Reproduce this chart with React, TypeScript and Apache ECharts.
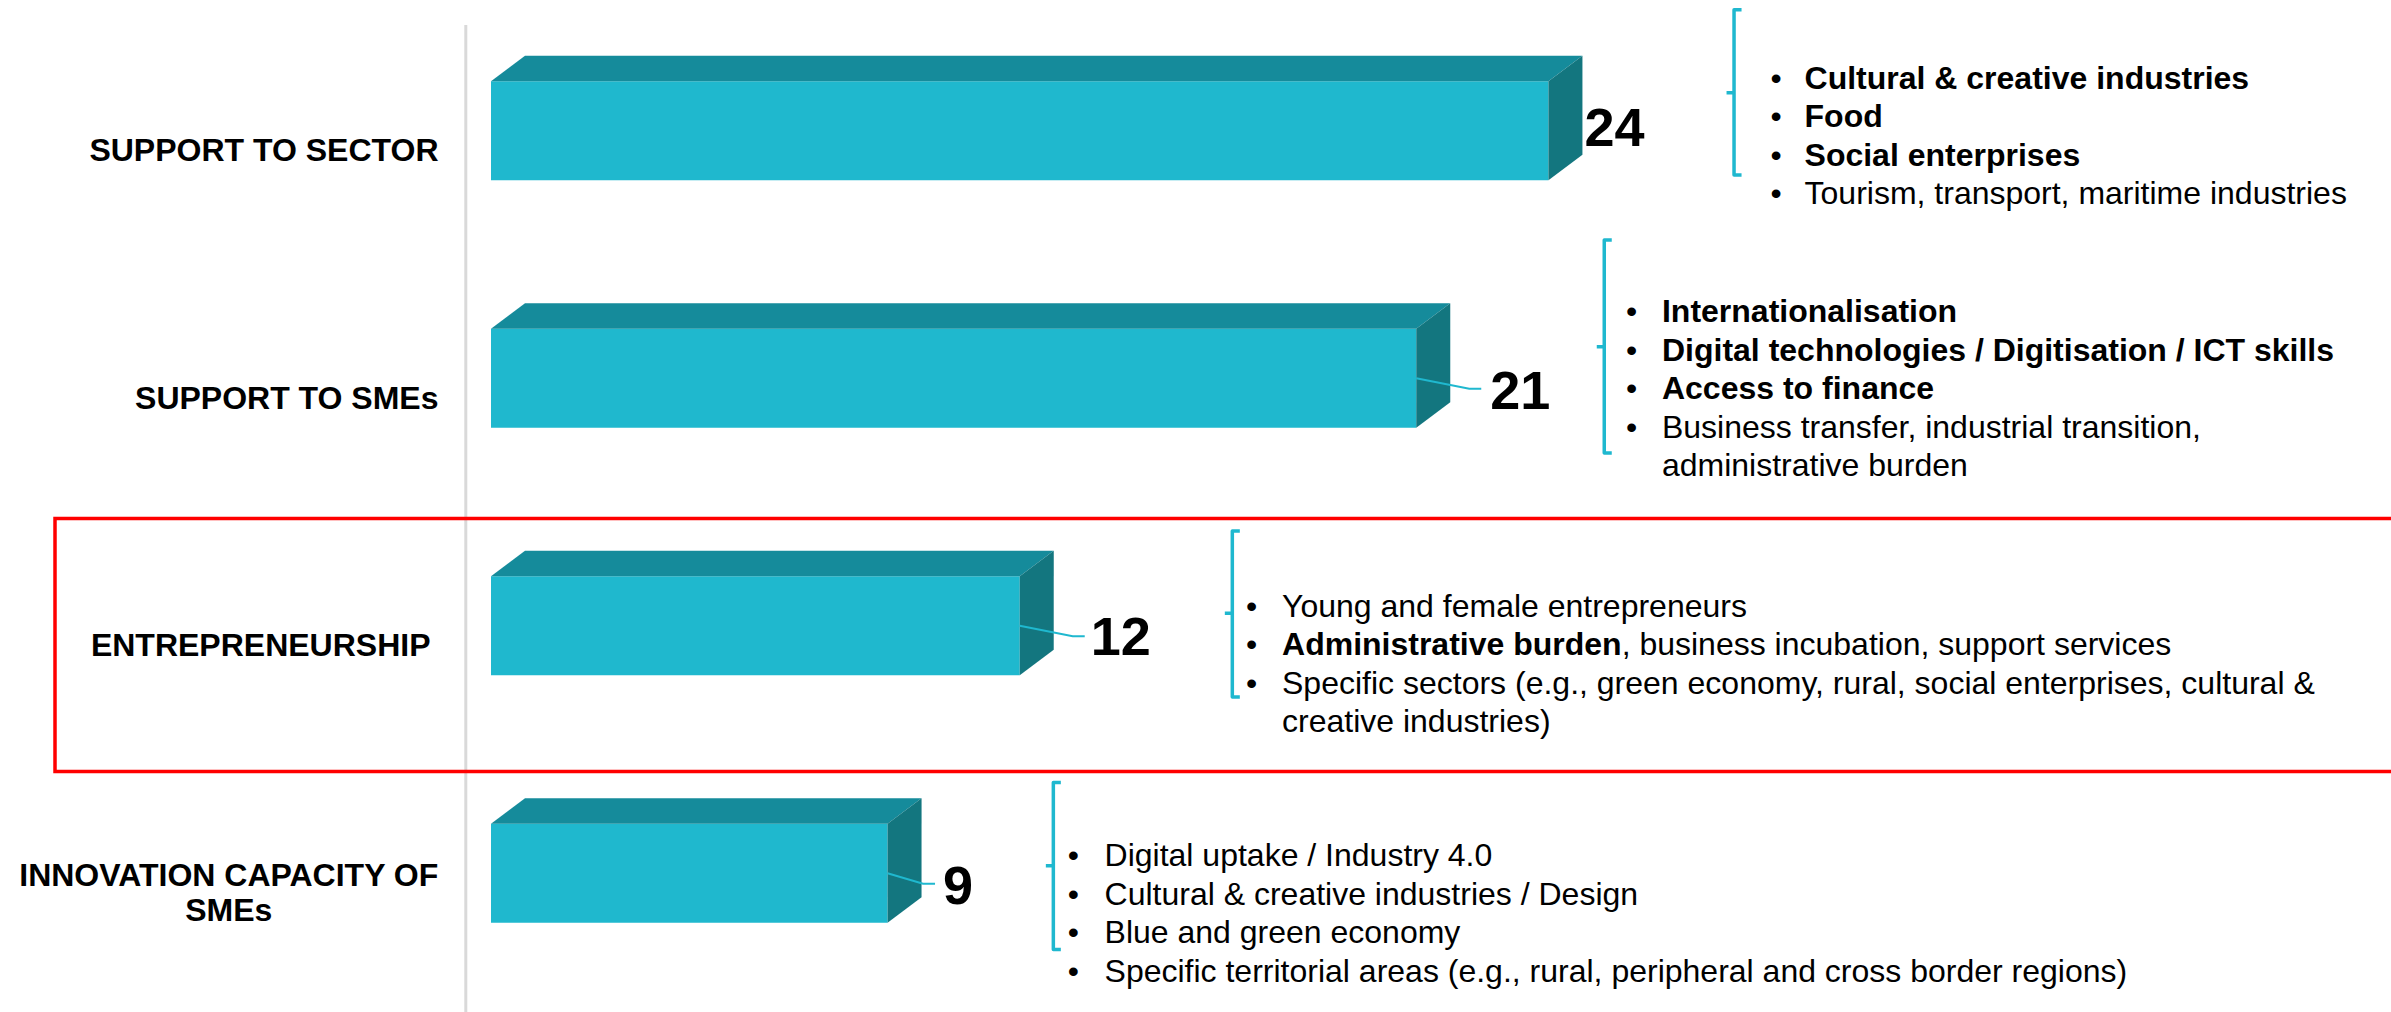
import React, { useEffect, useRef } from "react";
import * as echarts from "echarts";

// ---------- data ----------
const categories = [
  "SUPPORT TO SECTOR",
  "SUPPORT TO SMEs",
  "ENTREPRENEURSHIP",
  "INNOVATION CAPACITY OF\nSMEs",
];
const counts = [24, 21, 12, 9];
const highlighted = "ENTREPRENEURSHIP";

// bullet items: each item is a list of [text, bold]
type Seg = [string, boolean];
const sectorItems: Seg[][] = [
  [["Cultural & creative industries", true]],
  [["Food", true]],
  [["Social enterprises", true]],
  [["Tourism, transport, maritime industries", false]],
];
const smeItems: Seg[][] = [
  [["Internationalisation", true]],
  [["Digital technologies / Digitisation / ICT skills", true]],
  [["Access to finance", true]],
  [["Business transfer, industrial transition,\nadministrative burden", false]],
];
const entrepreneurshipItems: Seg[][] = [
  [["Young and female entrepreneurs", false]],
  [["Administrative burden", true], [", business incubation, support services", false]],
  [["Specific sectors (e.g., green economy, rural, social enterprises, cultural &\ncreative industries)", false]],
];
const innovationItems: Seg[][] = [
  [["Digital uptake / Industry 4.0", false]],
  [["Cultural & creative industries / Design", false]],
  [["Blue and green economy", false]],
  [["Specific territorial areas (e.g., rural, peripheral and cross border regions)", false]],
];
const bulletLists = [sectorItems, smeItems, entrepreneurshipItems, innovationItems];

// ---------- layout / style ----------
const W = 2391;
const H = 1012;
const FONT = "'Liberation Sans', Arial, Helvetica, sans-serif";
const FRONT = "#1fb8ce";
const TOP = "#158b9b";
const SIDE = "#13767f";
const ACCENT = "#1fb8cf";
const DEPTH_X = 34;
const DEPTH_Y = 25.5;
const BAR_RATIO = 0.4;
const LINE_H = 38.5;
// offsets relative to bar end (x) and band centre (y)
const LAYOUT = [
  { labelDx: 36, labelDy: -3.75, leaderDx: 0, bracketDx: 185.6, bTop: -121, bBottom: 44.25, nub: -38, bulletDx: 227.6, textDx: 256.1, firstLine: -53.25 },
  { labelDx: 74, labelDy: 11.75, leaderDx: 65, bracketDx: 188, bTop: -138.25, bBottom: 74.75, nub: -31.5, bulletDx: 215.4, textDx: 245.7, firstLine: -67.25 },
  { labelDx: 71, labelDy: 10.25, leaderDx: 65, bracketDx: 212.6, bTop: -94.75, bBottom: 71.25, nub: -12.5, bulletDx: 232, textDx: 262.3, firstLine: -20 },
  { labelDx: 55.5, labelDy: 11.75, leaderDx: 47.5, bracketDx: 165.8, bTop: -90.75, bBottom: 76.25, nub: -7.5, bulletDx: 185.8, textDx: 217, firstLine: -18.25 },
];
const HIGHLIGHT = { left: 55, width: 2400, top: -107.25, bottom: 145.75 };

function richItems(items: Seg[][]): string {
  return items
    .map((segs) => segs.map(([t, b]) => `{${b ? "b" : "r"}|${t}}`).join(""))
    .join("\n");
}
function bulletColumn(items: Seg[][]): string {
  return items
    .map((segs) => {
      const lines = segs.map((s) => s[0]).join("").split("\n").length;
      return "•" + "\n".repeat(lines - 1);
    })
    .join("\n");
}

export default function App() {
  const ref = useRef<HTMLDivElement>(null);
  useEffect(() => {
    if (!ref.current) return;
    const chart = echarts.init(ref.current, undefined, { renderer: "svg" });
    const option: any = {
      animation: false,
      backgroundColor: "#ffffff",
      grid: { left: 491, right: 578.2, top: 7, bottom: 15, containLabel: false },
      xAxis: { type: "value", min: 0, max: 30, show: false },
      yAxis: {
        type: "category",
        inverse: true,
        data: categories,
        axisLine: { show: false },
        axisTick: { show: false },
        splitLine: { show: false },
        axisLabel: {
          interval: 0,
          margin: 52.5,
          align: "right",
          verticalAlign: "middle",
          fontSize: 32,
          fontWeight: "bold",
          fontFamily: FONT,
          color: "#000",
          lineHeight: 35,
          padding: [38.5, 0, 0, 0],
          formatter: (v: string) =>
            v.includes("\n")
              ? v.split("\n").map((s) => `{c|${s}}`).join("\n")
              : v === highlighted
              ? `{e|${v}}`
              : v,
          rich: {
            c: { align: "center", fontSize: 32, fontWeight: "bold", fontFamily: FONT, color: "#000", lineHeight: 35 },
            e: { padding: [0, 8, 0, 0], fontSize: 32, fontWeight: "bold", fontFamily: FONT, color: "#000", lineHeight: 35 },
          },
        },
      },
      graphic: [
        {
          type: "line",
          z: 0,
          shape: { x1: 465.8, y1: 25, x2: 465.8, y2: H },
          style: { stroke: "#d9d9d9", lineWidth: 3 },
        },
      ],
      series: [
        {
          type: "custom",
          clip: false,
          z: 2,
          encode: { x: 0, y: 1 },
          data: counts.map((v, i) => [v, i]),
          renderItem: (params: any, api: any) => {
            const i = params.dataIndex;
            const v = api.value(0);
            const c = api.value(1);
            const end = api.coord([v, c]);
            const start = api.coord([0, c]);
            const band = api.size([0, 1])[1];
            const h = band * BAR_RATIO;
            const ex = end[0];
            const bc = end[1];
            const x0 = start[0];
            const yT = bc - h / 2;
            const yB = bc + h / 2;
            const L = LAYOUT[i];
            const children: any[] = [];
            if (categories[i] === highlighted) {
              children.push({
                type: "rect",
                shape: { x: HIGHLIGHT.left, y: bc + HIGHLIGHT.top, width: HIGHLIGHT.width, height: HIGHLIGHT.bottom - HIGHLIGHT.top },
                style: { fill: "none", stroke: "#ff0000", lineWidth: 3.5 },
              });
            }
            children.push({
              type: "rect",
              shape: { x: x0, y: yT, width: ex - x0, height: h },
              style: { fill: FRONT },
            });
            children.push({
              type: "polygon",
              shape: { points: [[x0, yT], [x0 + DEPTH_X, yT - DEPTH_Y], [ex + DEPTH_X, yT - DEPTH_Y], [ex, yT]] },
              style: { fill: TOP },
            });
            children.push({
              type: "polygon",
              shape: { points: [[ex, yT], [ex + DEPTH_X, yT - DEPTH_Y], [ex + DEPTH_X, yB - DEPTH_Y], [ex, yB]] },
              style: { fill: SIDE },
            });
            if (L.leaderDx > 0) {
              children.push({
                type: "polyline",
                shape: { points: [[ex, bc], [ex + L.leaderDx - 12, bc + 10.5], [ex + L.leaderDx, bc + 10.5]] },
                style: { fill: "none", stroke: ACCENT, lineWidth: 2 },
              });
            }
            children.push({
              type: "text",
              style: {
                text: String(v),
                x: ex + L.labelDx,
                y: bc + L.labelDy,
                fill: "#000",
                font: `bold 54px ${FONT}`,
                align: "left",
                verticalAlign: "middle",
              },
            });
            const bx = ex + L.bracketDx;
            children.push({
              type: "polyline",
              shape: { points: [[bx + 7.5, bc + L.bTop], [bx, bc + L.bTop], [bx, bc + L.bBottom], [bx + 7.5, bc + L.bBottom]] },
              style: { fill: "none", stroke: ACCENT, lineWidth: 3.5, lineJoin: "round" },
            });
            children.push({
              type: "line",
              shape: { x1: bx - 7.5, y1: bc + L.nub, x2: bx, y2: bc + L.nub },
              style: { stroke: ACCENT, lineWidth: 3.5 },
            });
            const items = bulletLists[i];
            const topY = bc + L.firstLine - LINE_H / 2;
            children.push({
              type: "text",
              style: {
                text: bulletColumn(items),
                x: ex + L.bulletDx,
                y: topY,
                fill: "#000",
                font: `32px ${FONT}`,
                lineHeight: LINE_H,
                align: "center",
                verticalAlign: "top",
              },
            });
            children.push({
              type: "text",
              style: {
                text: richItems(items),
                x: ex + L.textDx,
                y: topY,
                fill: "#000",
                font: `32px ${FONT}`,
                lineHeight: LINE_H,
                align: "left",
                verticalAlign: "top",
                rich: {
                  b: { font: `bold 32px ${FONT}`, fill: "#000", lineHeight: LINE_H },
                  r: { font: `32px ${FONT}`, fill: "#000", lineHeight: LINE_H },
                },
              },
            });
            return { type: "group", children };
          },
        },
      ],
    };
    chart.setOption(option);
    return () => chart.dispose();
  }, []);
  return (
    <div
      ref={ref}
      style={{ position: "fixed", left: 0, top: 0, width: W, height: H, background: "#fff" }}
    />
  );
}
